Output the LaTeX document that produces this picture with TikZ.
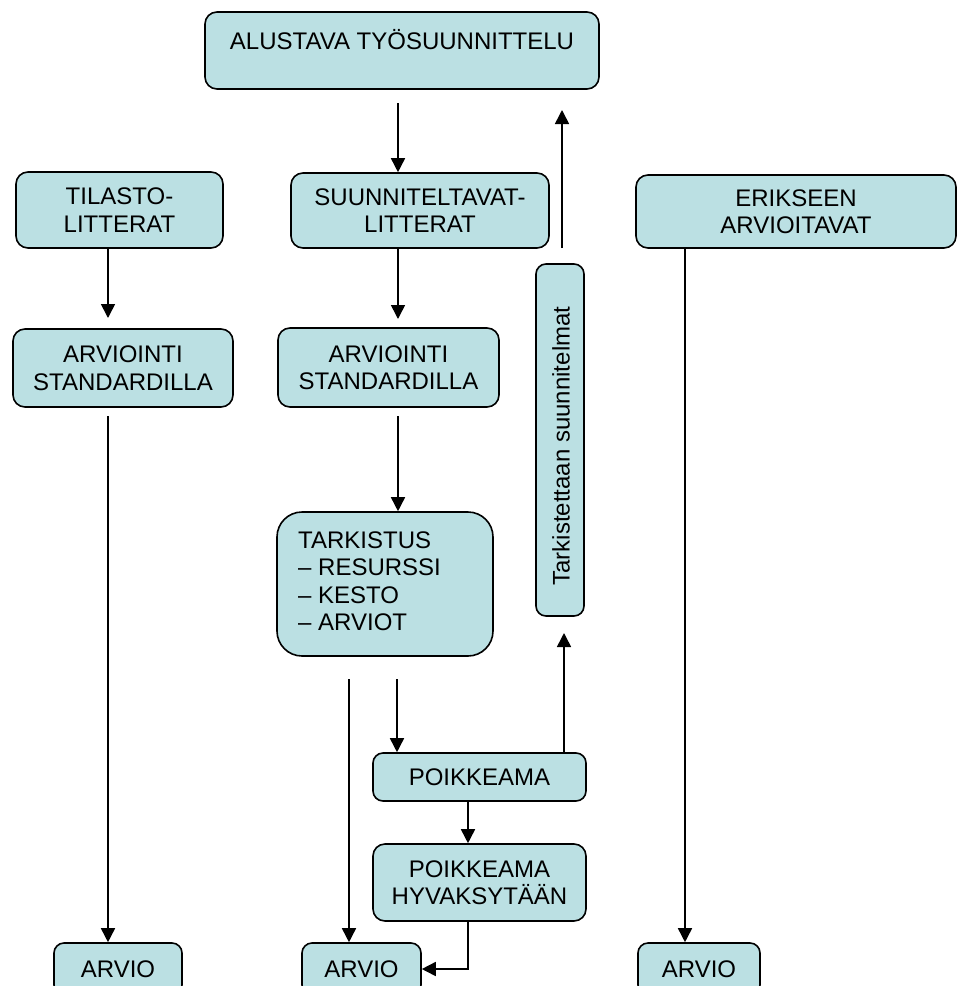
\documentclass[tikz,border=0pt]{standalone}
\usepackage{fontspec}
\setmainfont{Liberation Sans}
\usetikzlibrary{arrows.meta}
\definecolor{boxfill}{RGB}{187,224,227}
\tikzset{
  box/.style={draw=black, line width=1.6pt, fill=boxfill, rounded corners=12pt, inner sep=0pt, align=center,
    font=\fontsize{24}{27.5}\selectfont},
  txt/.style={inner sep=0pt, font=\fontsize{24}{27.5}\selectfont},
  conn/.style={line width=1.6pt},
  arr/.style={line width=1.6pt, -{Triangle[length=14pt,width=14pt]}},
}
\begin{document}
\begin{tikzpicture}[x=1pt,y=-1pt]
\useasboundingbox (0,0) rectangle (960,986);
% boxes
\node[box, minimum width=394pt, minimum height=77pt] (top) at (402,50.5) {};
\node[txt] (topt) at (402,40) {ALUSTAVA TYÖSUUNNITTELU};
\node[box, minimum width=207pt, minimum height=76pt] (tila) at (119.5,210) {TILASTO-\\LITTERAT};
\node[box, minimum width=258pt, minimum height=75pt] (suun) at (420,210.5) {SUUNNITELTAVAT-\\LITTERAT};
\node[box, minimum width=320pt, minimum height=73pt] (erik) at (796,211.5) {ERIKSEEN\\ARVIOITAVAT};
\node[box, minimum width=220pt, minimum height=78pt] (arv1) at (123,368) {ARVIOINTI\\STANDARDILLA};
\node[box, minimum width=221pt, minimum height=79pt] (arv2) at (388.5,367.5) {ARVIOINTI\\STANDARDILLA};
\node[box, rounded corners=25pt, minimum width=216pt, minimum height=144pt] (tark) at (385,584) {};
\node[txt, anchor=west, align=left] (tarkt) at (298,581) {TARKISTUS\\– RESURSSI\\– KESTO\\– ARVIOT};
\node[box, rounded corners=10pt, minimum width=48pt, minimum height=352pt] (vert) at (560,440) {};
\node[txt, rotate=90] (vertt) at (561,446) {Tarkistettaan suunnitelmat};
\node[box, rounded corners=10pt, minimum width=213pt, minimum height=48pt] (poik) at (479.5,777) {POIKKEAMA};
\node[box, minimum width=213pt, minimum height=77pt] (hyv) at (479.5,882.5) {POIKKEAMA\\HYVAKSYTÄÄN};
\node[box, rounded corners=10pt, minimum width=128pt, minimum height=52pt] (A1) at (118,969) {ARVIO};
\node[box, rounded corners=10pt, minimum width=119pt, minimum height=52pt] (A2) at (361.5,969) {ARVIO};
\node[box, rounded corners=10pt, minimum width=122pt, minimum height=52pt] (A3) at (699,969) {ARVIO};
% free ends
\coordinate (c1) at (398,103);
\coordinate (c2) at (562,248);
\coordinate (c3) at (562,110);
\coordinate (c4) at (108,318);
\coordinate (c5) at (398,319);
\coordinate (c6) at (398,416);
\coordinate (c7) at (108,416);
\coordinate (c8) at (685,0);
\coordinate (c9) at (349,679);
\coordinate (c10) at (397,679);
\coordinate (c11) at (564,633);
\coordinate (c12) at (468,0);
% connectors
\draw[arr] (c1) -- (c1 |- suun.north);
\draw[arr] (c2) -- (c3);
\draw[arr] (tila.south -| c4) -- (c4);
\draw[arr] (suun.south -| c5) -- (c5);
\draw[arr] (c6) -- (c6 |- tark.north);
\draw[arr] (c7) -- (c7 |- A1.north);
\draw[arr] (erik.south -| c8) -- (c8 |- A3.north);
\draw[arr] (c9) -- (c9 |- A2.north);
\draw[arr] (c10) -- (c10 |- poik.north);
\draw[arr] (poik.north -| c11) -- (c11);
\draw[arr] (poik.south -| c12) -- (c12 |- hyv.north);
\draw[arr] (hyv.south -| c12) |- (A2.east);
\end{tikzpicture}
\end{document}
